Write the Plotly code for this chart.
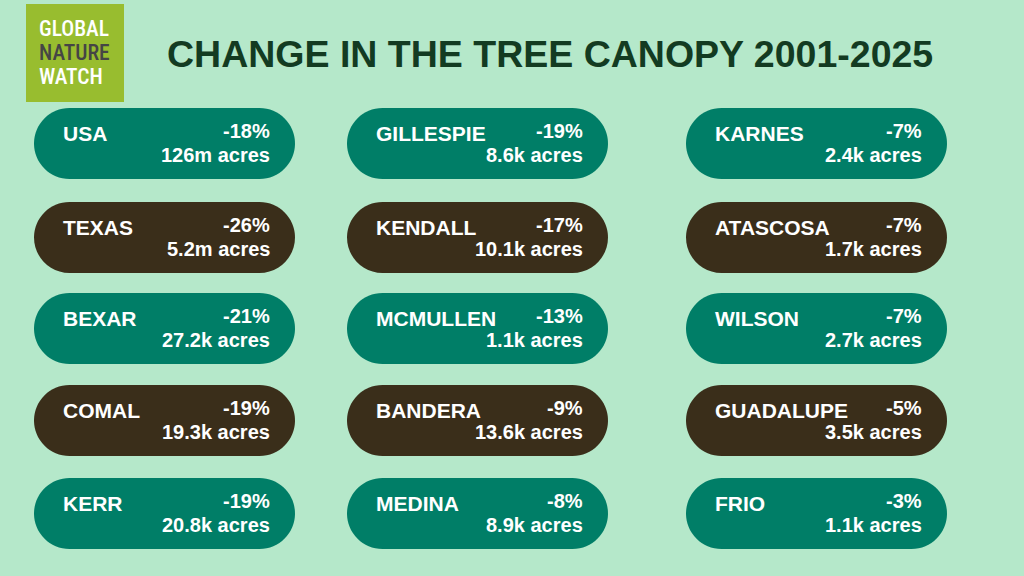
import plotly.graph_objects as go

# Tree canopy change per place, read column by column (top to bottom).
places = ['USA', 'TEXAS', 'BEXAR', 'COMAL', 'KERR',
          'GILLESPIE', 'KENDALL', 'MCMULLEN', 'BANDERA', 'MEDINA',
          'KARNES', 'ATASCOSA', 'WILSON', 'GUADALUPE', 'FRIO']
pct_change = [-18, -26, -21, -19, -19,
              -19, -17, -13, -9, -8,
              -7, -7, -7, -5, -3]
acres_lost = ['126m', '5.2m', '27.2k', '19.3k', '20.8k',
              '8.6k', '10.1k', '1.1k', '13.6k', '8.9k',
              '2.4k', '1.7k', '2.7k', '3.5k', '1.1k']

BG = '#b5e8ca'
GREEN = '#007e67'
BROWN = '#3a2e1a'
TITLE = '#133b22'

# grid layout of the pills (pixels)
col_left = [34, 347, 686]
row_top = [108, 202, 293, 385, 478]
pill_w, pill_h = 261, 71
n_rows = len(row_top)

FONT = 'Liberation Sans, Arial, sans-serif'


def pill_path(x0, y0, w, h):
    r = h / 2
    k = 0.5523 * r
    x1 = x0 + w
    y1 = y0 + h
    return (f'M {x0 + r},{y0} L {x1 - r},{y0} '
            f'C {x1 - r + k},{y0} {x1},{y0 + r - k} {x1},{y0 + r} '
            f'C {x1},{y0 + r + k} {x1 - r + k},{y1} {x1 - r},{y1} '
            f'L {x0 + r},{y1} '
            f'C {x0 + r - k},{y1} {x0},{y0 + r + k} {x0},{y0 + r} '
            f'C {x0},{y0 + r - k} {x0 + r - k},{y0} {x0 + r},{y0} Z')


fig = go.Figure()
shapes = []
annotations = []

for i, name in enumerate(places):
    col, row = divmod(i, n_rows)
    x0 = col_left[col]
    y0 = row_top[row]
    fill = GREEN if row % 2 == 0 else BROWN
    shapes.append(dict(type='path', path=pill_path(x0, y0, pill_w, pill_h),
                       fillcolor=fill, line=dict(width=0), layer='below'))
    annotations.append(dict(x=x0 + 27, y=y0 + 25, text=f'<b>{name}</b>',
                            xanchor='left', yanchor='middle', showarrow=False,
                            font=dict(family=FONT, size=21, color='white')))
    annotations.append(dict(x=x0 + pill_w - 23, y=y0 + 23, text=f'<b>{pct_change[i]}%</b>',
                            xanchor='right', yanchor='middle', showarrow=False,
                            font=dict(family=FONT, size=20, color='white')))
    annotations.append(dict(x=x0 + pill_w - 23, y=y0 + 47, text=f'<b>{acres_lost[i]} acres</b>',
                            xanchor='right', yanchor='middle', showarrow=False,
                            font=dict(family=FONT, size=20, color='white')))

# logo block
shapes.append(dict(type='rect', x0=26, y0=4, x1=124, y1=102,
                   fillcolor='#98bd2f', line=dict(width=0), layer='below'))
logo_font = 'Roboto Condensed, Liberation Sans Narrow, Roboto, sans-serif'
for word, yy, colr in [('GLOBAL', 28, 'white'), ('NATURE', 52, '#454545'), ('WATCH', 76, 'white')]:
    annotations.append(dict(x=37, y=yy, text=word, xanchor='left', yanchor='middle',
                            showarrow=False,
                            font=dict(family=logo_font, size=21.5, weight=500, color=colr)))

annotations.append(dict(x=550, y=54, text='<b>CHANGE IN THE TREE CANOPY 2001-2025</b>',
                        xanchor='center', yanchor='middle', showarrow=False,
                        font=dict(family=FONT, size=37.5, color=TITLE)))

fig.update_layout(
    width=1024, height=576,
    margin=dict(l=0, r=0, t=0, b=0),
    paper_bgcolor=BG, plot_bgcolor=BG,
    xaxis=dict(range=[0, 1024], visible=False, fixedrange=True),
    yaxis=dict(range=[576, 0], visible=False, fixedrange=True),
    shapes=shapes,
    annotations=annotations,
    showlegend=False,
)

fig.write_html('out.html', config={'displayModeBar': False},
               post_script="document.body.style.margin='0';document.body.style.overflow='hidden';")
